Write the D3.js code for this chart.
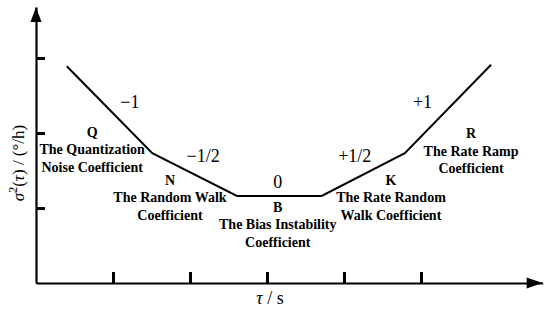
<!DOCTYPE html>
<html>
<head>
<meta charset="utf-8">
<script src="https://cdn.jsdelivr.net/npm/d3@7"></script>
</head>
<body style="margin:0; background:#fff">
<div id="chart"></div>
<script>
// Allan variance sketch: piecewise slopes on log-log axes (unitless tick positions)
var xTicks = [1, 2, 3, 4, 5],
    yTicks = [1, 2, 3];

var curveTau = [0.4, 1.51, 2.61, 3.71, 4.79, 5.91],
    curveSigma = [2.89, 1.73, 1.16, 1.16, 1.73, 2.91];

var slopeLabels = ['\u22121', '\u22121/2', '0', '+1/2', '+1'];

var coefLetters = ['Q', 'N', 'B', 'K', 'R'],
    coefNames = [
      ['The Quantization', 'Noise Coefficient'],
      ['The Random Walk', 'Coefficient'],
      ['The Bias Instability', 'Coefficient'],
      ['The Rate Random', 'Walk Coefficient'],
      ['The Rate Ramp', 'Coefficient']
    ];

// where each annotation sits, in axis units
var slopeAnchor = [[1.22, 2.33], [2.17, 1.61], [3.14, 1.27], [4.14, 1.61], [5.02, 2.33]],
    coefAnchor = [[0.73, 1.95], [1.74, 1.31], [3.14, 0.95], [4.61, 1.31], [5.65, 1.93]];

var serif = 'Liberation Serif';

function draw_chart() {
  var w = 550, h = 310;
  var x0 = 36, y0 = 283, unit_x = 77, unit_y = 75;

  var x = d3.scaleLinear().domain([0, 6.58]).range([x0, x0 + 6.58*unit_x]);
  var y = d3.scaleLinear().domain([0, 3.68]).range([y0, y0 - 3.68*unit_y]);

  var svg = d3.select('#chart').append('svg')
      .attr('width', w)
      .attr('height', h)
      .attr('font-family', serif);

  // x axis, ticks pointing up
  var gx = svg.append('g')
      .attr('transform', 'translate(0,' + y0 + ')')
      .call(d3.axisBottom(x).tickValues(xTicks).tickSizeInner(-11).tickSizeOuter(0).tickFormat(''));

  var gy = svg.append('g')
      .attr('transform', 'translate(' + x0 + ',0)')
      .call(d3.axisLeft(y).tickValues(yTicks).tickSizeInner(-9).tickSizeOuter(0).tickFormat(''));

  [gx, gy].forEach(function(g) {
    g.select('.domain').attr('stroke', '#000').attr('stroke-width', 2.2);
    g.selectAll('.tick line').attr('stroke', '#000').attr('stroke-width', 3);
  });

  // arrow heads
  var xe = x(6.58), ye = y(3.68);
  svg.append('polygon')
    .attr('points', xe + ',' + y0 + ' ' + (xe - 16) + ',' + (y0 - 5.5) + ' ' + (xe - 16) + ',' + (y0 + 5.5))
    .attr('fill', '#000');
  svg.append('polygon')
    .attr('points', x0 + ',' + ye + ' ' + (x0 - 5.5) + ',' + (ye + 15) + ' ' + (x0 + 5.5) + ',' + (ye + 15))
    .attr('fill', '#000');

  // the curve
  var pts = curveTau.map(function(t, i) { return [t, curveSigma[i]]; });
  svg.append('path')
    .datum(pts)
    .attr('d', d3.line().x(function(d) { return x(d[0]); }).y(function(d) { return y(d[1]); }))
    .attr('fill', 'none')
    .attr('stroke', '#000')
    .attr('stroke-width', 2);

  svg.selectAll('text.slope')
    .data(slopeLabels)
    .enter().append('text')
    .attr('class', 'slope')
    .attr('font-family', serif)
    .attr('font-size', 18)
    .attr('text-anchor', 'middle')
    .attr('x', function(d, i) { return x(slopeAnchor[i][0]); })
    .attr('y', function(d, i) { return y(slopeAnchor[i][1]); })
    .text(function(d) { return d; });

  coefLetters.forEach(function(letter, i) {
    var cx = x(coefAnchor[i][0]), cy = y(coefAnchor[i][1]);
    var t = svg.append('text')
      .attr('font-family', serif)
      .attr('font-weight', 'bold')
      .attr('font-size', 14)
      .attr('text-anchor', 'middle')
      .attr('x', cx)
      .attr('y', cy);
    t.append('tspan').attr('x', cx).attr('dy', 0).text(letter);
    coefNames[i].forEach(function(line) {
      t.append('tspan').attr('x', cx).attr('dy', 17.5).text(line);
    });
  });

  // axis titles
  var xl = svg.append('text')
    .attr('font-family', serif)
    .attr('text-anchor', 'middle')
    .attr('x', 270)
    .attr('y', 304)
    .attr('font-size', 18);
  xl.append('tspan').attr('font-style', 'italic').text('\u03c4');
  xl.append('tspan').text(' / s');

  var yl = svg.append('text')
    .attr('font-family', serif)
    .attr('text-anchor', 'middle')
    .attr('transform', 'translate(24,163) rotate(-90)')
    .attr('font-size', 17);
  yl.append('tspan').attr('font-style', 'italic').text('\u03c3');
  yl.append('tspan').attr('font-size', 12).attr('dy', -7).text('2');
  yl.append('tspan').attr('dy', 7).text('(');
  yl.append('tspan').attr('font-style', 'italic').text('\u03c4');
  yl.append('tspan').text(') / (\u00b0/h)');
}

draw_chart();
</script>
</body>
</html>
